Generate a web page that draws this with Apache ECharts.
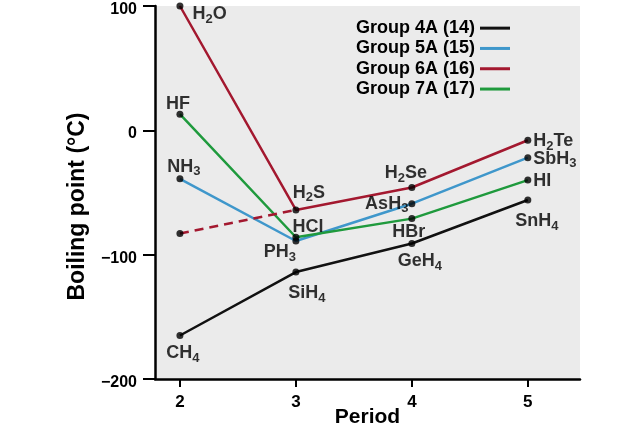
<!DOCTYPE html>
<html>
<head>
<meta charset="utf-8">
<style>html,body{margin:0;padding:0;background:#fff;}#c{width:640px;height:429px;}</style>
<script src="https://cdn.jsdelivr.net/npm/echarts@6/dist/echarts.min.js"></script>
</head>
<body>
<div id="c"></div>
<script>
// ---- data ----
const periods = [2, 3, 4, 5];
const xTicks = [2, 3, 4, 5];
const yTicks = [-200, -100, 0, 100];
const seriesNames = ['Group 4A (14)', 'Group 5A (15)', 'Group 6A (16)', 'Group 7A (17)'];
const group4A = [-165, -114, -91, -56];
const group5A = [-39, -89, -59, -22];
const group6A = [100, -64, -46, -8];
const group7A = [13, -86, -71, -40];
const group6AExpectedPeriods = [2, 3];
const group6AExpected = [-83, -64];
const compounds4A = ['CH4', 'SiH4', 'GeH4', 'SnH4'];
const compounds5A = ['NH3', 'PH3', 'AsH3', 'SbH3'];
const compounds6A = ['H2O', 'H2S', 'H2Se', 'H2Te'];
const compounds7A = ['HF', 'HCl', 'HBr', 'HI'];

// ---- label placement (style, not data) ----
const place4A = [['bottom', [3, -2]], ['bottom', [11, 1]], ['bottom', [8, -2]], ['bottom', [9, 1]]];
const place5A = [['top', [4, 8]], ['bottom', [-16, -9]], ['left', [5, 0]], ['right', [-3, 1]]];
const place6A = [['right', [4, 8]], ['top', [13, 3]], ['top', [-6, 6]], ['right', [-3, 1]]];
const place7A = [['top', [-2, 7]], ['top', [12, 7]], ['bottom', [-3, -4]], ['right', [-3, 1]]];

const colors = ['#111111', '#3f97cb', '#a3182f', '#1f9a3d'];
const FONT = '"Liberation Sans", Arial, Helvetica, sans-serif';
const INK = '#000000';

function fmt(name) {
  return name.replace(/(\d)/g, '{s|$1}');
}

const groups = [group4A, group5A, group6A, group7A];
const compounds = [compounds4A, compounds5A, compounds6A, compounds7A];
const places = [place4A, place5A, place6A, place7A];

const lineSeries = groups.map((g, i) => ({
  name: seriesNames[i],
  type: 'line',
  data: periods.map((p, j) => [p, g[j]]),
  showSymbol: false,
  color: colors[i],
  lineStyle: { color: colors[i], width: 2.5 },
  z: 2
}));

const dashed = {
  name: 'expected',
  type: 'line',
  data: group6AExpectedPeriods.map((p, j) => [p, group6AExpected[j]]),
  showSymbol: false,
  lineStyle: { color: colors[2], width: 2.5, type: [9, 6] },
  z: 2
};

const dotData = [];
groups.forEach((g, i) => {
  periods.forEach((p, j) => {
    dotData.push({
      value: [p, g[j]],
      name: compounds[i][j],
      label: { show: true, position: places[i][j][0], offset: places[i][j][1] }
    });
  });
});
dotData.push({ value: [group6AExpectedPeriods[0], group6AExpected[0]], label: { show: false } });

const dots = {
  type: 'scatter',
  data: dotData,
  symbolSize: 7,
  itemStyle: { color: '#000' },
  z: 5,
  silent: true,
  label: {
    show: true,
    distance: 5,
    formatter: (p) => fmt(p.name),
    color: INK,
    fontFamily: FONT,
    fontWeight: 'bold',
    fontSize: 18,
    rich: {
      s: { fontFamily: FONT, fontWeight: 'bold', fontSize: 13, color: INK, padding: [10, 0, 0, 0] }
    }
  }
};

const chart = echarts.init(document.getElementById('c'), null, { renderer: 'canvas' });
chart.setOption({
  animation: false,
  backgroundColor: '#ffffff',
  grid: {
    left: 155, right: 60, top: 6, bottom: 50,
    outerBoundsMode: 'none',
    containLabel: false,
    show: true, backgroundColor: '#ebebeb', borderWidth: 0
  },
  legend: {
    data: seriesNames,
    orient: 'vertical',
    align: 'right',
    right: 125,
    top: 13,
    icon: 'rect',
    itemWidth: 30,
    itemHeight: 3,
    itemGap: 0,
    textStyle: { fontFamily: FONT, fontWeight: 'bold', fontSize: 18, color: INK, lineHeight: 20.3 }
  },
  xAxis: {
    type: 'value',
    min: 1.785,
    max: 5.45,
    name: 'Period',
    nameLocation: 'middle',
    nameGap: 28,
    nameMoveOverlap: false,
    nameTextStyle: { fontFamily: FONT, fontWeight: 'bold', fontSize: 21, color: INK },
    axisLine: { show: true, onZero: false, lineStyle: { color: INK, width: 2.5 } },
    axisTick: { show: true, customValues: xTicks, length: 8, lineStyle: { color: INK, width: 2 } },
    axisLabel: { customValues: xTicks, margin: 15, fontFamily: FONT, fontWeight: 'bold', fontSize: 17, color: INK },
    splitLine: { show: false }
  },
  yAxis: {
    type: 'value',
    min: -200,
    max: 100,
    name: 'Boiling point (°C)',
    nameLocation: 'middle',
    nameGap: 66,
    nameMoveOverlap: false,
    nameTextStyle: { fontFamily: FONT, fontWeight: 'bold', fontSize: 23, color: INK, padding: [0, 28, 0, 0] },
    axisLine: { show: true, onZero: false, lineStyle: { color: INK, width: 2.5 } },
    axisTick: { show: true, customValues: yTicks, length: 12, lineStyle: { color: INK, width: 2 } },
    axisLabel: {
      customValues: yTicks, margin: 18, color: INK,
      formatter: (v) => '{v|' + (v < 0 ? '\u2212' + Math.abs(v) : String(v)) + '}',
      rich: { v: { fontFamily: FONT, fontWeight: 'bold', fontSize: 16, color: INK, padding: [7, 0, 0, 0] } }
    },
    splitLine: { show: false }
  },
  series: [...lineSeries, dashed, dots]
});
</script>
</body>
</html>
